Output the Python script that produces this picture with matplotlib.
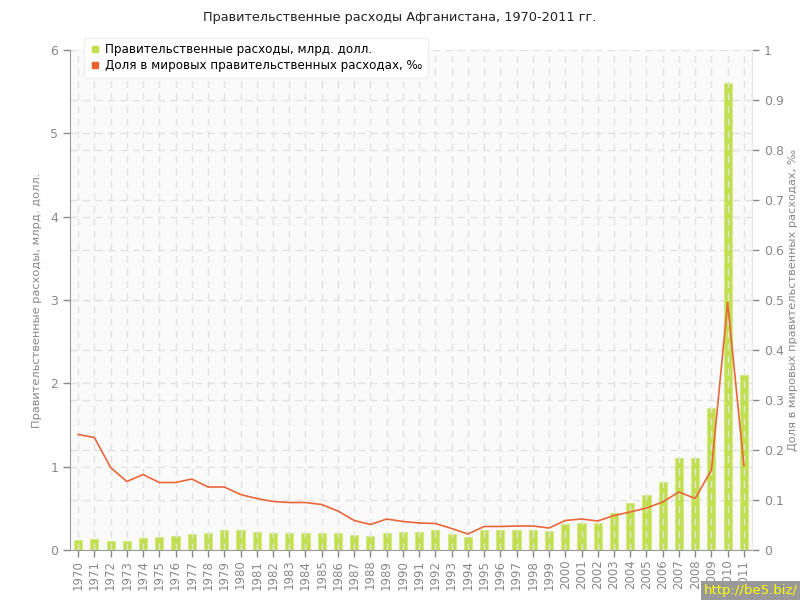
import matplotlib
matplotlib.use("Agg")
import matplotlib.pyplot as plt
import numpy as np
from matplotlib.lines import Line2D

years = list(range(1970, 2012))
spending = [0.12, 0.13, 0.11, 0.11, 0.144, 0.156, 0.168, 0.19, 0.2, 0.236,
            0.236, 0.22, 0.21, 0.21, 0.21, 0.21, 0.21, 0.18, 0.17, 0.21,
            0.22, 0.22, 0.236, 0.19, 0.156, 0.245, 0.245, 0.245, 0.245, 0.23,
            0.31, 0.33, 0.33, 0.45, 0.56, 0.66, 0.82, 1.1, 1.1, 1.7,
            5.6, 2.1]
share = [0.231, 0.225, 0.165, 0.137, 0.151, 0.135, 0.135, 0.142, 0.126, 0.126,
         0.111, 0.103, 0.097, 0.095, 0.095, 0.091, 0.078, 0.059, 0.051, 0.062,
         0.057, 0.054, 0.053, 0.043, 0.032, 0.047, 0.047, 0.048, 0.048, 0.044,
         0.059, 0.062, 0.058, 0.069, 0.076, 0.084, 0.096, 0.116, 0.103, 0.16,
         0.495, 0.169]

title = "Правительственные расходы Афганистана, 1970-2011 гг."
left_label = "Правительственные расходы, млрд. долл."
right_label = "Доля в мировых правительственных расходах, ‰"

plt.rcParams['font.family'] = ['DejaVu Sans']
gray = "#888888"
bar_color = "#c2df4f"
line_color = "#e8663a"
grid_color = "#e2e2e2"

fig = plt.figure(figsize=(8, 6), dpi=100)
ax = fig.add_axes([70/800, 1-550/600, (752-70)/800, 500/600])
ax.set_facecolor("#fafafa")
x = np.arange(len(years))
ax.bar(x, spending, width=0.5, color=bar_color, edgecolor="#d4ea86", linewidth=0.8, zorder=2)
ax.set_xlim(-0.5, len(years)-0.5)
ax.set_ylim(0, 6)
ax.set_yticks(range(0, 7))
ax.set_xticks(x)
ax.set_xticklabels([str(y) for y in years], rotation=90, fontsize=8.5, color="#999999")
ax.tick_params(axis='y', colors=gray, labelsize=9, length=5, width=1)
ax.tick_params(axis='x', colors=gray, length=5, width=1, pad=2)
for lab in ax.get_yticklabels():
    lab.set_color(gray)
ax.set_ylabel(left_label, color=gray, fontsize=8.2, labelpad=6)

# grids
for xi in x:
    ax.axvline(xi, color=grid_color, lw=1, ls=(0, (5, 4)), zorder=3)
for yv in range(1, 7):
    ax.axhline(yv, color=grid_color, lw=1, ls=(0, (5, 4)), zorder=1)
for k in range(1, 10):
    ax.axhline(k*0.6, color=grid_color, lw=1, ls=(0, (5, 4)), zorder=1)

ax.spines['top'].set_visible(False)
ax.spines['right'].set_color("#e6e6e6")
ax.spines['left'].set_color("#999999")
ax.spines['bottom'].set_color("#999999")

ax2 = ax.twinx()
ax2.plot(x, share, color=line_color, lw=1.2, zorder=5)
ax2.set_ylim(0, 1)
ax2.set_yticks([i/10 for i in range(11)])
ax2.set_yticklabels(["0"] + [f"{i/10:.1f}" for i in range(1, 10)] + ["1"])
ax2.tick_params(axis='y', colors=gray, labelsize=9, length=5, width=1)
ax2.set_ylabel(right_label, color=gray, fontsize=8.2, labelpad=3)
ax2.spines['top'].set_visible(False)
ax2.spines['right'].set_color("#e6e6e6")
ax2.spines['left'].set_visible(False)
ax2.spines['bottom'].set_visible(False)

fig.text(0.5, 1-18/600, title, ha='center', va='center', fontsize=9.3, color="#222222")

handles = [Line2D([], [], marker='s', ls='none', color=bar_color, markersize=5),
           Line2D([], [], marker='s', ls='none', color="#e8602c", markersize=5)]
leg = fig.legend(handles, [left_label, right_label], loc='upper left',
                 bbox_to_anchor=(78/800, 1-32/600), fontsize=8.6, frameon=True,
                 fancybox=True, framealpha=1, edgecolor="#eeeeee",
                 handletextpad=0.3, borderpad=0.45, labelspacing=0.25, handlelength=1)
leg.set_zorder(10)

fig.text(798/800, 3/600, "http://be5.biz/", ha='right', va='bottom', fontsize=9.5,
         color="#ffff00", bbox=dict(facecolor="#999999", edgecolor='none', pad=2))

fig.savefig("out.png", dpi=100)
